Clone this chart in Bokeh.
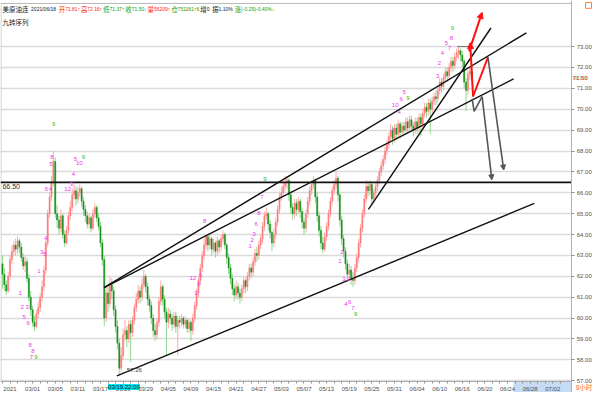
from bokeh.plotting import figure
from bokeh.models import (ColumnDataSource, Range1d, FixedTicker, Label, Arrow,
                          NormalHead, PrintfTickFormatter)
from bokeh.embed import file_html
from bokeh.resources import INLINE
from bokeh.core.properties import value

# ---------------- data (8-hour bars) ----------------
first_open = 62.6
closes = [
    62.1, 61.6, 61.3, 62.0, 62.8, 63.2, 63.5, 63.3, 63.7, 63.4,
    62.9, 62.5, 62.7, 61.9, 61.0, 60.4, 59.8, 59.6, 60.2, 60.5,
    61.0, 61.5, 62.3, 63.6, 65.0, 65.8, 66.5, 67.5, 65.0, 64.7,
    64.3, 64.9, 64.0, 63.6, 64.2, 64.9, 65.3, 65.9, 66.1, 65.7,
    66.0, 66.2, 65.6, 65.2, 64.9, 64.5, 64.8, 64.3, 65.0, 65.3,
    64.8, 64.4, 63.6, 62.8, 60.0, 61.2, 60.7, 61.6, 61.3, 60.4,
    59.6, 58.8, 57.6, 58.2, 59.2, 59.4, 59.0, 59.7, 59.3, 59.9,
    60.5, 60.9, 61.3, 61.0, 61.6, 62.0, 61.5, 60.9, 60.6, 60.0,
    59.4, 59.2, 59.8, 60.8, 61.5, 60.9, 60.3, 59.8, 60.2, 60.0,
    59.7, 60.1, 59.6, 59.9, 59.8, 60.0, 59.7, 59.9, 59.5, 59.8,
    59.4, 60.0, 60.6, 61.2, 61.8, 62.4, 63.0, 63.5, 63.9, 63.5,
    63.8, 63.3, 63.6, 63.2, 63.7, 63.4, 63.8, 64.0, 63.5, 62.9,
    62.4, 61.9, 61.4, 61.1, 61.5, 61.2, 61.0, 61.4, 61.8, 61.5,
    62.0, 62.4, 62.2, 62.7, 63.1, 63.0, 63.5, 63.8, 64.4, 64.9,
    65.0, 64.5, 64.1, 63.6, 64.0, 64.6, 65.2, 65.8, 66.0, 66.3,
    66.5, 66.6, 65.9, 65.3, 65.0, 65.5, 65.2, 65.6, 65.1, 64.6,
    64.3, 65.0, 65.6, 66.1, 66.4, 66.6, 65.8, 64.9, 64.2, 63.6,
    63.3, 63.9, 64.4, 65.0, 65.6, 66.1, 66.4, 66.7, 65.9, 64.7,
    63.8, 63.2, 62.6, 62.1, 62.3, 61.9, 61.8, 62.4, 62.9, 63.6,
    64.3, 65.0, 65.7, 66.3, 66.1, 66.4, 65.7, 66.0, 66.3, 66.6,
    67.0, 67.3, 67.6, 68.0, 68.3, 68.7, 69.0, 68.6, 69.1, 68.8,
    69.3, 68.9, 69.2, 69.0, 69.4, 69.1, 69.5, 69.2, 69.0, 69.4,
    69.1, 69.6, 69.3, 69.8, 70.1, 69.9, 70.3, 70.0, 70.4, 70.6,
    70.5, 70.9, 71.3, 71.1, 71.5, 71.8, 71.6, 72.0, 72.3, 72.1,
    72.5, 72.7, 72.8, 72.6, 72.3, 71.3, 70.9, 71.7, 71.81, 71.50,
]
highs = [
    63.0, 62.4, 61.8, 62.2, 63.0, 63.5, 63.7, 63.8, 63.9, 63.8,
    63.6, 63.1, 63.0, 62.9, 62.1, 61.3, 60.6, 60.1, 60.4, 60.8,
    61.2, 61.8, 62.5, 63.8, 65.2, 66.0, 66.8, 68.0, 67.7, 65.4,
    64.9, 65.2, 65.0, 64.2, 64.4, 65.1, 65.6, 66.2, 66.4, 66.3,
    66.3, 66.4, 66.3, 65.8, 65.4, 65.1, 65.0, 64.9, 65.2, 65.5,
    65.4, 65.0, 64.6, 63.8, 63.0, 61.5, 61.5, 62.0, 61.9, 61.5,
    60.6, 59.9, 59.0, 58.6, 59.5, 59.9, 59.6, 59.9, 59.9, 60.1,
    60.7, 61.2, 61.6, 61.5, 61.9, 62.3, 62.1, 61.7, 61.1, 60.8,
    60.2, 59.7, 60.0, 61.0, 61.8, 61.6, 61.1, 60.5, 60.5, 60.4,
    60.2, 60.3, 60.3, 60.1, 60.1, 60.2, 60.1, 60.1, 60.0, 60.0,
    59.9, 60.2, 60.8, 61.4, 62.0, 62.6, 63.2, 63.8, 64.0, 64.0,
    64.0, 63.9, 63.8, 63.7, 63.9, 63.8, 64.0, 64.2, 64.1, 63.6,
    63.1, 62.6, 62.1, 61.6, 61.8, 61.7, 61.4, 61.6, 62.0, 61.9,
    62.2, 62.6, 62.6, 62.9, 63.3, 63.4, 63.7, 64.0, 64.6, 65.1,
    65.3, 65.1, 64.7, 64.2, 64.3, 64.8, 65.4, 66.0, 66.3, 66.5,
    66.8, 66.8, 66.7, 66.1, 65.5, 65.7, 65.7, 65.8, 65.7, 65.3,
    64.8, 65.2, 65.8, 66.3, 66.6, 66.8, 66.7, 66.0, 65.1, 64.4,
    63.9, 64.1, 64.6, 65.2, 65.8, 66.3, 66.6, 67.0, 66.8, 66.0,
    64.9, 64.0, 63.4, 62.8, 62.6, 62.5, 62.2, 62.6, 63.1, 63.8,
    64.5, 65.2, 65.9, 66.6, 66.5, 66.6, 66.5, 66.2, 66.5, 66.8,
    67.2, 67.5, 67.8, 68.2, 68.5, 68.9, 69.3, 69.2, 69.3, 69.3,
    69.5, 69.4, 69.4, 69.4, 69.6, 69.6, 69.7, 69.7, 69.4, 69.6,
    69.6, 69.8, 69.8, 70.0, 70.3, 70.3, 70.5, 70.5, 70.6, 70.8,
    70.9, 71.1, 71.5, 71.5, 71.7, 72.0, 72.0, 72.2, 72.5, 72.5,
    72.7, 72.9, 73.0, 72.9, 72.8, 72.4, 71.5, 71.9, 72.0, 72.16,
]
lows = [
    61.4, 61.3, 61.1, 61.2, 61.8, 62.6, 63.0, 63.0, 63.1, 63.1,
    62.7, 62.3, 62.2, 61.7, 60.8, 60.1, 59.6, 59.4, 59.5, 60.0,
    60.3, 60.8, 61.3, 62.1, 63.4, 64.8, 65.6, 66.3, 64.8, 64.3,
    64.0, 64.1, 63.8, 63.4, 63.5, 64.0, 64.7, 65.1, 65.7, 65.4,
    65.5, 65.8, 65.3, 64.9, 64.6, 64.3, 64.3, 64.1, 64.2, 64.8,
    64.6, 64.2, 63.4, 62.5, 59.6, 59.8, 60.3, 60.5, 60.9, 60.1,
    59.3, 58.5, 57.26, 57.4, 58.0, 58.9, 58.6, 58.8, 57.9, 59.1,
    59.7, 60.3, 60.7, 60.7, 60.8, 61.4, 61.2, 60.6, 60.3, 59.7,
    59.1, 58.9, 59.0, 59.6, 60.6, 60.6, 60.0, 58.2, 59.5, 59.7,
    59.4, 59.5, 59.3, 58.2, 59.5, 59.6, 59.5, 59.5, 59.3, 59.3,
    58.9, 59.2, 59.8, 60.4, 61.0, 61.6, 62.2, 62.8, 63.3, 63.2,
    63.3, 63.0, 63.1, 62.9, 63.0, 63.1, 63.2, 63.6, 63.3, 62.6,
    62.1, 61.6, 61.1, 60.8, 60.9, 60.9, 60.7, 60.8, 61.2, 61.2,
    61.3, 61.8, 61.9, 62.0, 62.5, 62.7, 62.8, 63.3, 63.6, 64.2,
    64.7, 64.2, 63.8, 63.2, 63.4, 63.8, 64.4, 65.0, 65.6, 65.8,
    66.1, 66.2, 65.6, 65.0, 64.7, 64.8, 64.9, 65.0, 64.8, 64.3,
    64.0, 64.1, 64.8, 65.4, 65.9, 66.2, 65.5, 64.6, 63.9, 63.3,
    63.1, 63.2, 63.7, 64.2, 64.8, 65.4, 65.9, 66.2, 65.6, 64.4,
    63.5, 62.9, 62.3, 61.8, 61.9, 61.6, 61.5, 61.6, 62.2, 62.7,
    63.4, 64.1, 64.8, 65.5, 65.8, 65.9, 65.4, 65.5, 65.8, 66.1,
    66.4, 66.8, 67.1, 67.4, 67.8, 68.1, 68.5, 68.3, 68.4, 68.5,
    68.6, 68.6, 68.7, 68.7, 68.8, 68.8, 68.9, 68.9, 68.7, 68.8,
    68.8, 68.9, 68.7, 69.1, 69.6, 69.6, 69.7, 68.8, 69.8, 70.2,
    70.2, 70.3, 70.7, 70.8, 70.9, 71.3, 71.3, 71.4, 71.8, 71.8,
    71.9, 72.3, 72.4, 72.3, 72.0, 71.0, 69.9, 70.7, 71.4, 71.37,
]
opens = [first_open] + closes[:-1]
bars = list(range(len(closes)))

# x axis: a label every 12 bars
tick_bars = list(range(0, 289, 12))
tick_labels = ["2021", "03/01", "03/05", "03/11", "03/17", "03/23", "03/29", "04/05",
               "04/09", "04/15", "04/21", "04/27", "05/03", "05/07", "05/13", "05/19",
               "05/25", "05/31", "06/04", "06/10", "06/16", "06/20", "06/24", "06/28", "07/02"]
price_ticks = list(range(57, 74))

level_price = 66.50
last_price = 71.50
low_price = 57.26
low_bar = 62
cross_label = "03/19.22:00"
period_label = "8小时"

# drawn trend lines (bar, price)
trend_x0 = [53.9, 53.9, 194.2, 60.7]
trend_y0 = [61.46, 61.46, 65.21, 57.23]
trend_x1 = [278.0, 271.2, 259.2, 282.2]
trend_y1 = [73.66, 71.45, 73.89, 65.49]

# projection arrows (bar, price)
red_arrow_x = [247.6, 254.5]
red_arrow_y = [72.77, 74.64]
red_path_x = [249.7, 248.2]
red_path_y = [70.61, 73.19]
red_path2_x = [249.7, 257.6]
red_path2_y = [70.61, 72.49]
gray1_x = [257.6, 266.0]
gray1_y = [72.49, 67.09]
gray2_x = [249.2, 250.3, 254.5, 259.7]
gray2_y = [70.51, 69.90, 70.61, 66.62]
max_mark_x = [241.4, 249.2]

# TD sequence counts (bar, price, text, colour kind)
td_x = [27.2, 26.2, 25.7, 38.7, 40.8, 42.9, 37.7, 36.6, 34.6, 23.3, 25.4, 23.0, 20.9, 22.5,
        19.4, 9.4, 10.5, 13.1, 11.5, 13.6, 14.7, 16.2, 15.4, 17.8, 101.0, 105.2, 104.2,
        102.6, 139.3, 107.3, 137.7, 136.1, 134.6, 133.5, 132.5, 131.4, 180.1, 179.1, 181.2,
        183.8, 182.2, 184.3, 185.9, 187.4, 231.9, 230.9, 213.1, 211.5, 215.2, 208.4, 210.5,
        207.3, 238.7, 238.2, 235.6, 237.2, 233.5]
td_y = [69.29, 67.70, 67.37, 67.61, 67.42, 67.70, 66.90, 66.43, 66.20, 66.20, 66.20, 63.85,
        63.15, 63.05, 62.26, 61.22, 60.52, 60.52, 60.05, 59.77, 58.69, 58.41, 58.13, 58.13,
        61.93, 62.07, 61.65, 61.22, 66.67, 64.65, 65.82, 65.02, 64.51, 64.04, 63.76, 63.43,
        63.15, 62.72, 61.88, 61.88, 60.66, 60.75, 60.47, 60.19, 72.20, 71.59, 70.84, 70.47,
        70.56, 70.19, 69.86, 69.01, 73.89, 73.42, 73.19, 72.95, 72.67]
td_text = ["9", "8", "5", "5", "10", "9", "4", "3", "12", "6", "4", "4", "3", "5", "1", "1",
           "2", "3", "5", "6", "8", "8", "7", "9", "12", "6", "6", "3", "9", "8", "7", "8",
           "6", "3", "2", "1", "2", "1", "3", "2", "4", "6", "7", "9", "2", "3", "5", "6",
           "9", "10", "4", "1", "9", "8", "5", "7", "4"]
td_kind = ["g", "m", "m", "m", "m", "g", "m", "m", "m", "m", "m", "m", "m", "m", "m", "m",
           "m", "m", "m", "m", "m", "m", "m", "g", "m", "m", "m", "m", "g", "m", "m", "m",
           "m", "m", "m", "m", "m", "m", "m", "m", "m", "m", "m", "g", "m", "m", "m", "m",
           "g", "m", "m", "m", "g", "m", "m", "m", "m"]

# header (Chinese words and the numbers after them), x in reference pixels
head_cjk = ["美原油连", "开", "高", "低", "收", "量", "仓", "增", "振", "涨"]
head_cjk_px = [2, 59, 81.5, 104, 126.5, 149, 173, 202.5, 214.5, 237.5]
head_cjk_kind = ["k", "r", "r", "g", "g", "r", "g", "k", "k", "g"]
head_num = ["2021/06/18", "71.81↑", "72.16↑", "71.37↑", "71.50↓", "56209↑", "751161↑6",
            "0", "1.10%", "(-0.29)-0.40%↓"]
head_num_px = [31, 65.5, 88, 110.5, 133, 155.5, 179.5, 209, 221, 244]
head_num_kind = ["k", "r", "r", "g", "g", "r", "g", "k", "k", "g"]
sub_title = "九转序列"

# ---------------- layout helpers (reference pixel -> data) ----------------
def bx(px):
    return (px - 2) / 1.91

def py(px):
    return 57 + (388 - px) / 21.31

X0, X1 = bx(0), bx(600)
Y0, Y1 = py(400), py(0)
PLOT_R = bx(579)
AXIS_Y = py(389)

RED_BODY, RED_WICK = "#ff7b7b", "#ffabab"
GRN_BODY, GRN_WICK = "#18901c", "#90d890"
colors = {"r": "#ff2020", "g": "#10a010", "k": "#202020", "m": "#ee33ee"}

p = figure(width=592, height=392, x_range=Range1d(X0, X1), y_range=Range1d(Y0, Y1),
           output_backend="svg", toolbar_location=None, y_axis_location="right",
           min_border_left=0, min_border_top=0, min_border_right=0, min_border_bottom=0,
           background_fill_color="white", border_fill_color="white", outline_line_color=None)

up = [c >= o for o, c in zip(opens, closes)]
src = ColumnDataSource(dict(
    x=bars, h=highs, l=lows,
    top=[max(o, c) for o, c in zip(opens, closes)],
    bot=[min(o, c) for o, c in zip(opens, closes)],
    body=[RED_BODY if u else GRN_BODY for u in up],
    wick=[RED_WICK if u else GRN_WICK for u in up],
))

# grid
p.xgrid.visible = False
p.ygrid.ticker = FixedTicker(ticks=price_ticks)
p.ygrid.grid_line_color = "#dadada"
p.ygrid.grid_line_width = 1.6

# blank price-scale strip and future-date strip
p.quad(left=[PLOT_R], right=[X1], bottom=[Y0], top=[Y1], fill_color="white", line_color=None)
p.quad(left=[bx(520)], right=[PLOT_R], bottom=[Y0], top=[AXIS_Y], fill_color="#c6dcf4", line_color=None)
# frame border lines
p.line(x=[X0, PLOT_R], y=[py(3), py(3)], line_color="#b8b8b8", line_width=1)
p.line(x=[bx(0.5), bx(0.5)], y=[AXIS_Y, py(3)], line_color="#c8c8c8", line_width=1)

p.segment(x0="x", y0="l", x1="x", y1="h", line_color="wick", line_width=1, source=src)
p.vbar(x="x", width=0.66, top="top", bottom="bot", fill_color="body", line_color="body",
       line_width=0.4, source=src)

# level line
p.segment(x0=[X0], y0=[level_price], x1=[PLOT_R], y1=[level_price], line_color="#101010", line_width=1.6)
p.text(x=[bx(2)], y=[level_price - 0.22], text=["%.2f" % level_price], text_font=value("Liberation Sans"),
       text_font_size="7px", text_color="#303030", text_align="left", text_baseline="middle")

# trend lines
p.segment(x0=trend_x0, y0=trend_y0, x1=trend_x1, y1=trend_y1, line_color="#101010", line_width=1.4)

# low / high markers
p.text(x=[low_bar + 4], y=[low_price + 0.25], text=["%.2f" % low_price], text_font=value("Liberation Sans"),
       text_font_size="6px", text_color="#404040", text_align="left", text_baseline="middle")
p.line(x=max_mark_x, y=[max(highs)] * 2, line_color="#707070", line_width=1)

# projections
RED, GRAY = "#ff1010", "#555555"
p.line(x=red_path2_x, y=red_path2_y, line_color=RED, line_width=2)
p.add_layout(Arrow(end=NormalHead(size=6, fill_color=RED, line_color=RED),
                   x_start=red_path_x[0], y_start=red_path_y[0], x_end=red_path_x[1], y_end=red_path_y[1],
                   line_color=RED, line_width=2))
p.add_layout(Arrow(end=NormalHead(size=6, fill_color=RED, line_color=RED),
                   x_start=red_arrow_x[0], y_start=red_arrow_y[0], x_end=red_arrow_x[1], y_end=red_arrow_y[1],
                   line_color=RED, line_width=2))
p.line(x=gray2_x[:-1], y=gray2_y[:-1], line_color=GRAY, line_width=1.6)
p.add_layout(Arrow(end=NormalHead(size=5, fill_color=GRAY, line_color=GRAY),
                   x_start=gray2_x[-2], y_start=gray2_y[-2], x_end=gray2_x[-1], y_end=gray2_y[-1],
                   line_color=GRAY, line_width=1.6))
p.add_layout(Arrow(end=NormalHead(size=5, fill_color=GRAY, line_color=GRAY),
                   x_start=gray1_x[0], y_start=gray1_y[0], x_end=gray1_x[1], y_end=gray1_y[1],
                   line_color=GRAY, line_width=1.6))

# TD numbers
p.text(x=td_x, y=td_y, text=td_text, text_color=[("#20c020" if k == "g" else colors["m"]) for k in td_kind],
       text_font=value("Liberation Sans"), text_font_size="6px", text_align="center", text_baseline="middle")

# header
p.text(x=[bx(v) for v in head_cjk_px], y=[py(9)] * len(head_cjk), text=head_cjk,
       text_color=[colors[k] for k in head_cjk_kind], text_font=value("Noto Sans CJK SC"),
       text_font_size="6.5px", text_align="left", text_baseline="middle")
p.text(x=[bx(v) for v in head_num_px], y=[py(9)] * len(head_num), text=head_num,
       text_color=[colors[k] for k in head_num_kind], text_font=value("Liberation Sans"),
       text_font_size="5px", text_align="left", text_baseline="middle")
p.text(x=[bx(2)], y=[py(22)], text=[sub_title], text_color="#202020",
       text_font=value("Noto Sans CJK SC"), text_font_size="6.5px", text_align="left", text_baseline="middle")

# axes drawn at fixed places inside the canvas
xa = p.xaxis[0]
xa.fixed_location = AXIS_Y
xa.bounds = (X0, PLOT_R)
xa.ticker = FixedTicker(ticks=[t + 4 for t in tick_bars], minor_ticks=list(range(0, 300, 4)))
xa.major_label_overrides = {t + 4: lab for t, lab in zip(tick_bars, tick_labels)}
xa.major_tick_out = 0
xa.major_tick_in = 0
xa.minor_tick_out = 2
xa.minor_tick_in = 0
xa.minor_tick_line_color = "#909090"
xa.axis_line_color = "#b0b0b0"
xa.major_label_text_font = "Liberation Sans"
xa.major_label_text_font_size = "6px"
xa.major_label_text_color = "#505050"
xa.major_label_standoff = 2

ya = p.yaxis[0]
ya.fixed_location = PLOT_R
ya.bounds = (Y0, Y1)
ya.ticker = FixedTicker(ticks=price_ticks)
ya.formatter = PrintfTickFormatter(format="%.2f")
ya.major_tick_out = 3
ya.major_tick_in = 0
ya.minor_tick_out = 0
ya.minor_tick_in = 0
ya.major_tick_line_color = "#909090"
ya.axis_line_color = "#b0b0b0"
ya.major_label_text_font = "Liberation Sans"
ya.major_label_text_font_size = "6px"
ya.major_label_text_color = "#505050"
ya.major_label_standoff = 2

# crosshair date label, last price label, period label, corner box
p.add_layout(Label(x=bx(109), y=py(394.5), text=cross_label, text_font_size="6px", text_color="#101010",
                   text_font="Liberation Sans", background_fill_color="#00e6ee", text_baseline="middle"))
p.add_layout(Label(x=bx(580), y=last_price, text="%.2f" % last_price, text_font_size="6px",
                   text_color="#ff2020", text_font="Liberation Sans", background_fill_color="#cdeccd",
                   text_baseline="middle"))
p.add_layout(Label(x=bx(583), y=py(394.5), text=period_label, text_font_size="6.5px", text_color="#ff6a00",
                   text_font="Noto Sans CJK SC", text_baseline="middle"))
p.quad(left=[bx(593)], right=[bx(599)], bottom=[py(8)], top=[py(2)], fill_color="white",
       line_color="#ff8040", line_width=1)

open("out.html", "w").write(file_html(p, INLINE))
